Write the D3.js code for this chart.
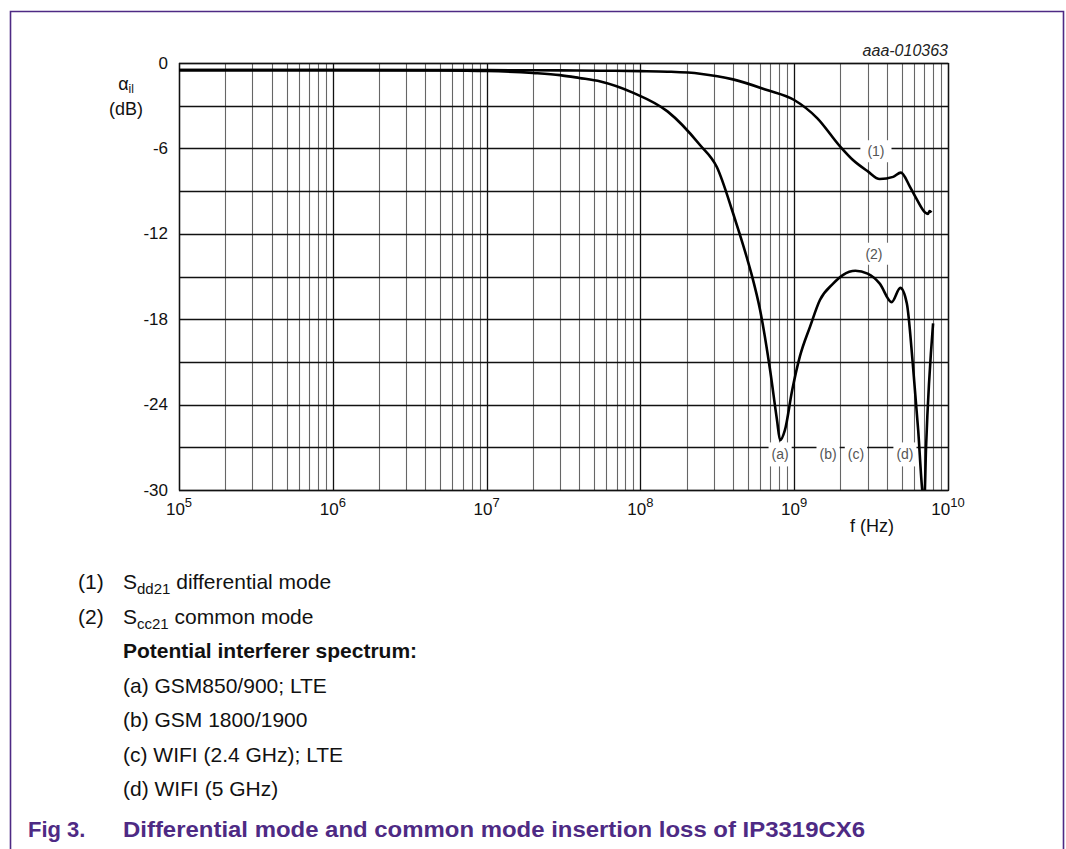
<!DOCTYPE html>
<html>
<head>
<meta charset="utf-8">
<script src="https://cdn.jsdelivr.net/npm/d3@7"></script>
<style>
  html, body { margin: 0; padding: 0; background: #fff; }
  svg { display: block; font-family: "Liberation Sans", Arial, Helvetica, sans-serif; }
</style>
</head>
<body>
<svg id="chart" width="1066" height="849"></svg>
<script>
// Sdd21 differential mode insertion loss (Hz, dB)
const diffFreq = [1e5, 1e6, 1e7, 3e7, 5.5e7, 1e8, 1.5e8, 2.44e8, 4e8, 6.65e8, 1e9, 1.41e9, 2.0e9, 2.4e9, 3.0e9, 3.6e9, 4.4e9, 4.94e9, 5.66e9, 6.28e9, 7.1e9, 7.4e9, 7.6e9, 7.8e9];
const diffLoss = [-0.5, -0.5, -0.5, -0.52, -0.54, -0.57, -0.61, -0.75, -1.15, -1.9, -2.6, -3.87, -5.9, -6.8, -7.6, -8.15, -8.0, -7.7, -8.7, -9.6, -10.5, -10.6, -10.4, -10.5];

// Scc21 common mode insertion loss (Hz, dB)
const commonFreq = [1e5, 1e6, 5e6, 1e7, 2e7, 3e7, 4e7, 5.5e7, 9e7, 1.5e8, 2.44e8, 3.14e8, 4.0e8, 4.44e8, 4.93e8, 5.32e8, 6.0e8, 6.97e8, 7.73e8, 8.1e8, 8.7e8, 9.7e8, 1.09e9, 1.27e9, 1.47e9, 1.79e9, 2.07e9, 2.5e9, 3.0e9, 3.6e9, 4.3e9, 4.9e9, 5.4e9, 5.9e9, 6.4e9, 6.8e9, 7.0e9, 7.2e9, 8.0e9];
const commonLoss = [-0.5, -0.5, -0.52, -0.56, -0.7, -0.85, -1.05, -1.3, -2.1, -3.4, -5.76, -7.31, -10.54, -12.08, -13.7, -14.97, -17.35, -21.57, -25.08, -26.5, -25.8, -23.0, -20.6, -18.5, -16.65, -15.5, -14.9, -14.6, -14.8, -15.5, -16.8, -15.8, -16.9, -21.1, -25.8, -30.0, -31.0, -27.0, -18.3];

// axis ticks
const yLabelTicks = [0, -6, -12, -18, -24, -30];
const yGridTicks = [0, -3, -6, -9, -12, -15, -18, -21, -24, -27, -30];
const xDecades = [5, 6, 7, 8, 9, 10];

// curve tags and interferer band tags
const curveTags = ["(1)", "(2)"];
const curveTagFreq = [3.4e9, 3.3e9];
const curveTagLoss = [-6.2, -13.4];
const bandTags = ["(a)", "(b)", "(c)", "(d)"];
const bandTagFreq = [8.1e8, 1.66e9, 2.52e9, 5.25e9];
const bandTagLoss = -27.5;

// notes under the chart
const curveNotes = [["(1)", "S", "dd21", " differential mode"], ["(2)", "S", "cc21", " common mode"]];
const bandHeading = "Potential interferer spectrum:";
const bandNotes = ["(a) GSM850/900; LTE", "(b) GSM 1800/1900", "(c) WIFI (2.4 GHz); LTE", "(d) WIFI (5 GHz)"];
const figNumber = "Fig 3.";
const figTitle = "Differential mode and common mode insertion loss of IP3319CX6";
const figCode = "aaa-010363";

const purple = "#4e2a84";
const svg = d3.select("#chart");

// outer frame
svg.append("path")
  .attr("d", "M10.5,849 V11.5 H1063.5 V849")
  .attr("fill", "none").attr("stroke", purple).attr("stroke-width", 1.6);

const plot = { left: 179, right: 948, top: 63, bottom: 490 };
const x = d3.scaleLog().domain([1e5, 1e10]).range([plot.left, plot.right]);
const y = d3.scaleLinear().domain([-30, 0]).range([plot.bottom, plot.top]);

const g = svg.append("g");

// vertical grid: every 1..9 x 10^n
const isDecade = v => Math.abs(Math.log10(v) - Math.round(Math.log10(v))) < 1e-9;
g.append("g").selectAll("line").data(x.ticks())
  .join("line")
  .attr("x1", d => Math.round(x(d)) + 0.5).attr("x2", d => Math.round(x(d)) + 0.5)
  .attr("y1", plot.top).attr("y2", plot.bottom)
  .attr("stroke", d => isDecade(d) ? "#111" : "#666")
  .attr("stroke-width", d => isDecade(d) ? 1.3 : 1.1);

// horizontal grid every 3 dB
g.append("g").selectAll("line").data(yGridTicks)
  .join("line")
  .attr("x1", plot.left).attr("x2", plot.right)
  .attr("y1", d => Math.round(y(d)) + 0.5).attr("y2", d => Math.round(y(d)) + 0.5)
  .attr("stroke", "#111").attr("stroke-width", 1.3);

// frame of plot area
g.append("rect")
  .attr("x", plot.left + 0.5).attr("y", plot.top + 0.5)
  .attr("width", plot.right - plot.left).attr("height", plot.bottom - plot.top)
  .attr("fill", "none").attr("stroke", "#111").attr("stroke-width", 1.3);

// curves
svg.append("clipPath").attr("id", "plotClip")
  .append("rect").attr("x", plot.left).attr("y", plot.top)
  .attr("width", plot.right - plot.left).attr("height", plot.bottom - plot.top);

const line = d3.line()
  .x(d => x(d[0])).y(d => y(d[1]))
  .curve(d3.curveMonotoneX);

const curves = svg.append("g").attr("clip-path", "url(#plotClip)");
curves.append("path")
  .datum(diffFreq.map((f, i) => [f, diffLoss[i]]))
  .attr("d", line).attr("fill", "none").attr("stroke", "#000").attr("stroke-width", 2.6);
curves.append("path")
  .datum(commonFreq.map((f, i) => [f, commonLoss[i]]))
  .attr("d", line).attr("fill", "none").attr("stroke", "#000").attr("stroke-width", 2.6);

// tags with white knock-out boxes
function tag(text, f, db, padX, padY) {
  const t = svg.append("g");
  const bg = t.append("rect").attr("fill", "#fff");
  const lbl = t.append("text")
    .attr("x", x(f)).attr("y", y(db))
    .attr("text-anchor", "middle").attr("dominant-baseline", "central")
    .attr("font-size", 14).attr("fill", "#555").text(text);
  const b = lbl.node().getBBox();
  bg.attr("x", b.x - padX).attr("y", b.y - padY)
    .attr("width", b.width + 2 * padX).attr("height", b.height + 2 * padY);
}
curveTags.forEach((t, i) => tag(t, curveTagFreq[i], curveTagLoss[i], 7, 3));
bandTags.forEach((t, i) => tag(t, bandTagFreq[i], bandTagLoss, 3, 4));

// y tick labels
svg.append("g").selectAll("text").data(yLabelTicks)
  .join("text")
  .attr("x", plot.left - 11).attr("y", d => y(d))
  .attr("text-anchor", "end").attr("dominant-baseline", "central")
  .attr("font-size", 17).attr("fill", "#111")
  .text(d => String(d));

// x tick labels 10^n
const xl = svg.append("g").selectAll("text").data(xDecades)
  .join("text")
  .attr("x", d => x(Math.pow(10, d))).attr("y", 515)
  .attr("text-anchor", "middle").attr("font-size", 17).attr("fill", "#111");
xl.append("tspan").text("10");
xl.append("tspan").attr("dy", -8).attr("font-size", 13).text(d => d);

// axis titles
const yt = svg.append("text").attr("x", 126).attr("y", 90)
  .attr("text-anchor", "middle").attr("font-size", 18).attr("fill", "#111");
yt.append("tspan").text("α");
yt.append("tspan").attr("dy", 3).attr("font-size", 12).text("il");
svg.append("text").attr("x", 126).attr("y", 115)
  .attr("text-anchor", "middle").attr("font-size", 18).attr("fill", "#111").text("(dB)");

svg.append("text").attr("x", 872).attr("y", 532)
  .attr("text-anchor", "middle").attr("font-size", 18).attr("fill", "#111").text("f (Hz)");

svg.append("text").attr("x", plot.right).attr("y", 56)
  .attr("text-anchor", "end").attr("font-size", 16).attr("font-style", "italic")
  .attr("fill", "#222").text(figCode);

// notes
const notes = svg.append("g").attr("font-size", 21).attr("fill", "#111");
const lineGap = 34.5;
curveNotes.forEach((n, i) => {
  const yy = 589 + i * lineGap;
  notes.append("text").attr("x", 78).attr("y", yy).text(n[0]);
  const t = notes.append("text").attr("x", 123).attr("y", yy);
  t.append("tspan").text(n[1]);
  t.append("tspan").attr("dy", 5).attr("font-size", 15).text(n[2]);
  t.append("tspan").attr("dy", -5).text(n[3]);
});
notes.append("text").attr("x", 123).attr("y", 589 + 2 * lineGap)
  .attr("font-weight", "bold").text(bandHeading);
bandNotes.forEach((n, i) => {
  notes.append("text").attr("x", 123).attr("y", 589 + (3 + i) * lineGap).text(n);
});

// figure caption
svg.append("text").attr("x", 28).attr("y", 837)
  .attr("font-size", 22).attr("font-weight", "bold").attr("fill", purple).text(figNumber);
svg.append("text").attr("x", 123).attr("y", 837)
  .attr("font-size", 22).attr("font-weight", "bold").attr("fill", purple)
  .attr("textLength", 742).attr("lengthAdjust", "spacingAndGlyphs").text(figTitle);
</script>
</body>
</html>
